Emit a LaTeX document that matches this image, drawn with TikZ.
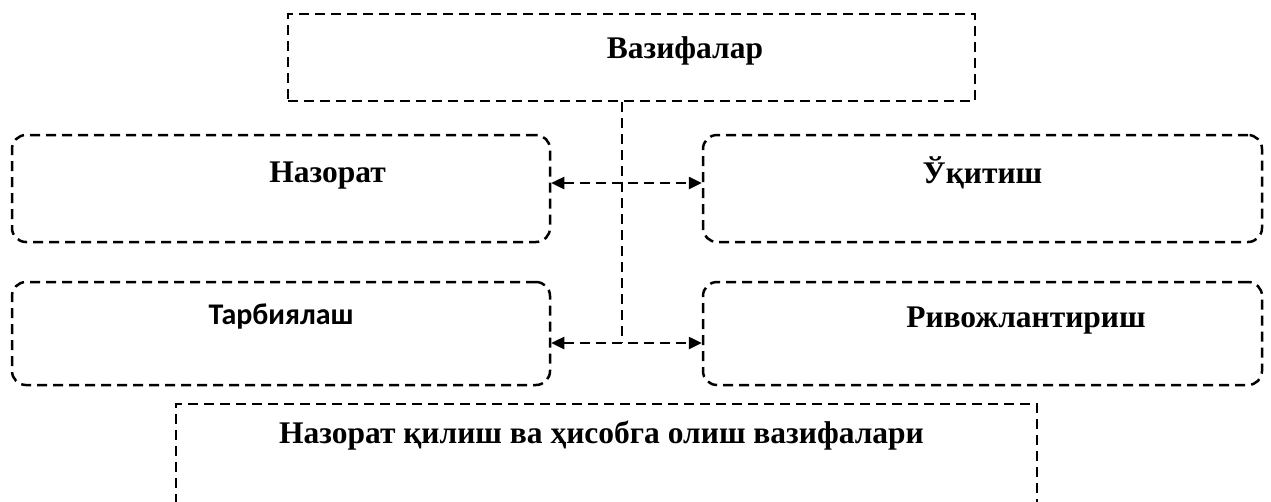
\documentclass[tikz,border=0pt]{standalone}
\usepackage{fontspec}
\setmainfont{Liberation Serif}
\newfontfamily\calibri{Carlito}
\usetikzlibrary{arrows.meta,positioning}

\begin{document}
\begin{tikzpicture}[x=1pt,y=-1pt,line width=2.5pt,
  dsh/.style={dash pattern=on 10pt off 6pt},
  frame/.style={draw,dsh,inner sep=0pt},
  rbox/.style={frame,rounded corners=14pt,minimum width=538pt},
  lbl/.style={font=\bfseries\fontsize{31.5}{34}\selectfont,inner sep=0pt,anchor=base},
  >={Triangle[length=13pt,width=12pt]}]
\clip (0,0) rectangle (1271,501);
\useasboundingbox (0,0) rectangle (1271,501);
% boxes
\node[frame,minimum width=687pt,minimum height=87pt] (vazifa) at (631.5,57.5) {};
\node[rbox,minimum height=107pt] (nazorat) at (281,188.5) {};
\node[rbox,minimum height=107pt,minimum width=559pt] (uqitish) at (982.5,188.5) {};
\node[rbox,minimum height=103pt] (tarbiya) at (281,333.5) {};
\node[rbox,minimum height=103pt,minimum width=559pt] (rivoj) at (982.5,333.5) {};
\node[frame,minimum width=861pt,minimum height=140pt] (hisob) at (606.5,474) {};
% texts
\node[lbl] (vazifaT) at (685,58) {Вазифалар};
\node[lbl] (nazoratT) at (327.5,182) {Назорат};
\node[lbl] (uqitishT) at (982.5,183) {Ўқитиш};
\node[lbl,font=\calibri\bfseries\fontsize{30}{34}\selectfont] (tarbiyaT) at (281,324) {Тарбиялаш};
\node[lbl] (rivojT) at (1026,327) {Ривожлантириш};
\node[lbl] (hisobT) at (601.5,443) {Назорат қилиш ва ҳисобга олиш вазифалари};
% connectors
\coordinate (j1) at (622,183);
\coordinate (j2) at (622,343);
\draw[dsh] (vazifa.south -| j1) -- (j2);
\draw[dsh,<->] (nazorat.east |- j1) -- (uqitish.west |- j1);
\draw[dsh,<->] (tarbiya.east |- j2) -- (rivoj.west |- j2);
\end{tikzpicture}
\end{document}
